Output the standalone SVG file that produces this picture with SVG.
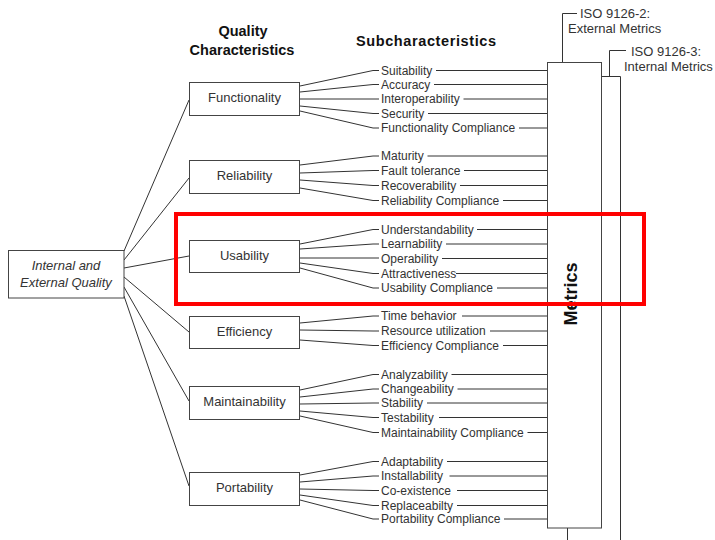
<svg xmlns="http://www.w3.org/2000/svg" width="715" height="540" viewBox="0 0 715 540">
  <style>
    .box { fill: #fff; stroke: #444; stroke-width: 1; }
    .ln { fill: none; stroke: #333; stroke-width: 1; }
    .lbl { font-family: "Liberation Sans", Arial, sans-serif; font-size: 13px; fill: #333; text-anchor: middle; }
    .sub { font-family: "Liberation Sans", Arial, sans-serif; font-size: 12px; fill: #333; }
    .hdr { font-family: "Liberation Sans", Arial, sans-serif; font-size: 14.5px; font-weight: bold; fill: #111; }
    .iso { font-family: "Liberation Sans", Arial, sans-serif; font-size: 13px; fill: #333; }
  </style>
  <rect width="715" height="540" fill="#fff"/>

  <!-- headers -->
  <g id="headers">
    <text class="hdr" x="243" y="36" text-anchor="middle">Quality</text>
    <text class="hdr" x="242" y="55" text-anchor="middle">Characteristics</text>
    <text class="hdr" x="356" y="46" font-size="15" textLength="140" lengthAdjust="spacing">Subcharacteristics</text>
  </g>

  <!-- connectors -->
  <g id="connectors" class="ln">
    <!-- root to characteristics -->
    <path d="M124,251 L189,100"/>
    <path d="M124,260 L189,178"/>
    <path d="M124,268 L189,256"/>
    <path d="M124,277 L189,332"/>
    <path d="M124,287 L189,401"/>
    <path d="M124,296 L189,486"/>
    <!-- Functionality fan -->
    <path d="M300,86 L373,70.5 H379"/>
    <path d="M300,92 L373,84.5 H379"/>
    <path d="M300,99 H379"/>
    <path d="M300,106 L373,113.5 H379"/>
    <path d="M300,111 L373,128 H379"/>
    <!-- Reliability fan -->
    <path d="M300,165 L373,156 H379"/>
    <path d="M300,173 L373,170.5 H379"/>
    <path d="M300,180 L373,185.5 H379"/>
    <path d="M300,188 L373,200.5 H379"/>
    <!-- Usability fan -->
    <path d="M300,244 L373,229.5 H379"/>
    <path d="M300,249 L373,244 H379"/>
    <path d="M300,258 H379"/>
    <path d="M300,263 L373,273.5 H379"/>
    <path d="M300,268 L373,288 H379"/>
    <!-- Efficiency fan -->
    <path d="M300,323 L373,316 H379"/>
    <path d="M300,330 L373,331 H379"/>
    <path d="M300,340 L373,345.5 H379"/>
    <!-- Maintainability fan -->
    <path d="M300,390 L373,374.5 H379"/>
    <path d="M300,397 L373,389 H379"/>
    <path d="M300,404 L373,403 H379"/>
    <path d="M300,411 L373,417.5 H379"/>
    <path d="M300,416 L373,432.5 H379"/>
    <!-- Portability fan -->
    <path d="M300,475 L373,461.5 H379"/>
    <path d="M300,482 L373,476 H379"/>
    <path d="M300,489 L373,490.5 H379"/>
    <path d="M300,495 L373,505.5 H379"/>
    <path d="M300,500 L373,519 H379"/>
    <!-- subcharacteristics to metrics -->
    <path d="M436,70.5 H547"/>
    <path d="M434,84.5 H547"/>
    <path d="M463.5,99 H547"/>
    <path d="M428,113.5 H547"/>
    <path d="M519,128 H547"/>
    <path d="M427.5,156 H547"/>
    <path d="M464,170.5 H547"/>
    <path d="M460,185.5 H547"/>
    <path d="M503,200.5 H547"/>
    <path d="M477,229.5 H547"/>
    <path d="M446,244 H547"/>
    <path d="M442,258.5 H547"/>
    <path d="M456,273.5 H547"/>
    <path d="M497,288 H547"/>
    <path d="M462,316 H547"/>
    <path d="M490,331 H547"/>
    <path d="M503,345.5 H547"/>
    <path d="M451.5,374.5 H547"/>
    <path d="M457.5,389 H547"/>
    <path d="M427,403 H547"/>
    <path d="M439,417.5 H547"/>
    <path d="M527.5,432.5 H547"/>
    <path d="M447,461.5 H547"/>
    <path d="M449.5,476 H547"/>
    <path d="M457,490.5 H547"/>
    <path d="M457,505.5 H547"/>
    <path d="M504,519 H547"/>
    <!-- ISO brackets -->
    <path d="M562.5,62 V13.5 H577"/>
    <path d="M609.5,76 V50.5 H626"/>
    <path d="M567.5,528 V540"/>
  </g>

  <!-- root node -->
  <g id="quality">
    <rect class="box" x="8.5" y="250.5" width="115.5" height="47.5"/>
    <text class="lbl" x="66" y="270" font-style="italic">Internal and</text>
    <text class="lbl" x="66" y="287" font-style="italic">External Quality</text>
  </g>

  <!-- characteristics -->
  <g id="functionality">
    <rect class="box" x="189.5" y="82.5" width="110" height="33"/>
    <text class="lbl" x="244.5" y="102">Functionality</text>
  </g>
  <g id="reliability">
    <rect class="box" x="189.5" y="160.5" width="110" height="33"/>
    <text class="lbl" x="244.5" y="180">Reliability</text>
  </g>
  <g id="usability">
    <rect class="box" x="189.5" y="240.5" width="110" height="32"/>
    <text class="lbl" x="244.5" y="260">Usability</text>
  </g>
  <g id="efficiency">
    <rect class="box" x="189.5" y="316.5" width="110" height="32"/>
    <text class="lbl" x="244.5" y="336">Efficiency</text>
  </g>
  <g id="maintainability">
    <rect class="box" x="189.5" y="386.5" width="110" height="33"/>
    <text class="lbl" x="244.5" y="406">Maintainability</text>
  </g>
  <g id="portability">
    <rect class="box" x="189.5" y="472.5" width="110" height="33"/>
    <text class="lbl" x="244.5" y="492">Portability</text>
  </g>

  <!-- subcharacteristics -->
  <g id="subcharacteristics" class="sub">
    <text x="381" y="74.5">Suitability</text>
    <text x="381" y="88.5">Accuracy</text>
    <text x="381" y="103">Interoperability</text>
    <text x="381" y="117.5">Security</text>
    <text x="381" y="132">Functionality Compliance</text>
    <text x="381" y="160">Maturity</text>
    <text x="381" y="174.5">Fault tolerance</text>
    <text x="381" y="189.5">Recoverability</text>
    <text x="381" y="204.5">Reliability Compliance</text>
    <text x="381" y="233.5">Understandability</text>
    <text x="381" y="248">Learnability</text>
    <text x="381" y="262.5">Operability</text>
    <text x="381" y="277.5">Attractiveness</text>
    <text x="381" y="292">Usability Compliance</text>
    <text x="381" y="320">Time behavior</text>
    <text x="381" y="335">Resource utilization</text>
    <text x="381" y="349.5">Efficiency Compliance</text>
    <text x="381" y="378.5">Analyzability</text>
    <text x="381" y="393">Changeability</text>
    <text x="381" y="407">Stability</text>
    <text x="381" y="421.5">Testability</text>
    <text x="381" y="436.5">Maintainability Compliance</text>
    <text x="381" y="465.5">Adaptability</text>
    <text x="381" y="480">Installability</text>
    <text x="381" y="494.5">Co-existence</text>
    <text x="381" y="509.5">Replaceabilty</text>
    <text x="381" y="523">Portability Compliance</text>
  </g>

  <!-- metrics columns -->
  <g id="metrics">
    <path class="ln" d="M601.5,76.5 H620.5 V540"/>
    <rect class="box" x="547.5" y="62.5" width="54" height="465.5"/>
    <text transform="translate(576.5,294) rotate(-90)" text-anchor="middle" font-family="Liberation Sans, Arial, sans-serif" font-size="18" font-weight="bold" fill="#111">Metrics</text>
  </g>

  <!-- ISO labels -->
  <g id="iso-labels" class="iso">
    <text x="580" y="18">ISO 9126-2:</text>
    <text x="568" y="33">External Metrics</text>
    <text x="631" y="55.5">ISO 9126-3:</text>
    <text x="624" y="71">Internal Metrics</text>
  </g>

  <!-- highlight frame -->
  <rect id="highlight" x="176" y="214" width="468" height="90" fill="none" stroke="#ff0000" stroke-width="4"/>
</svg>
